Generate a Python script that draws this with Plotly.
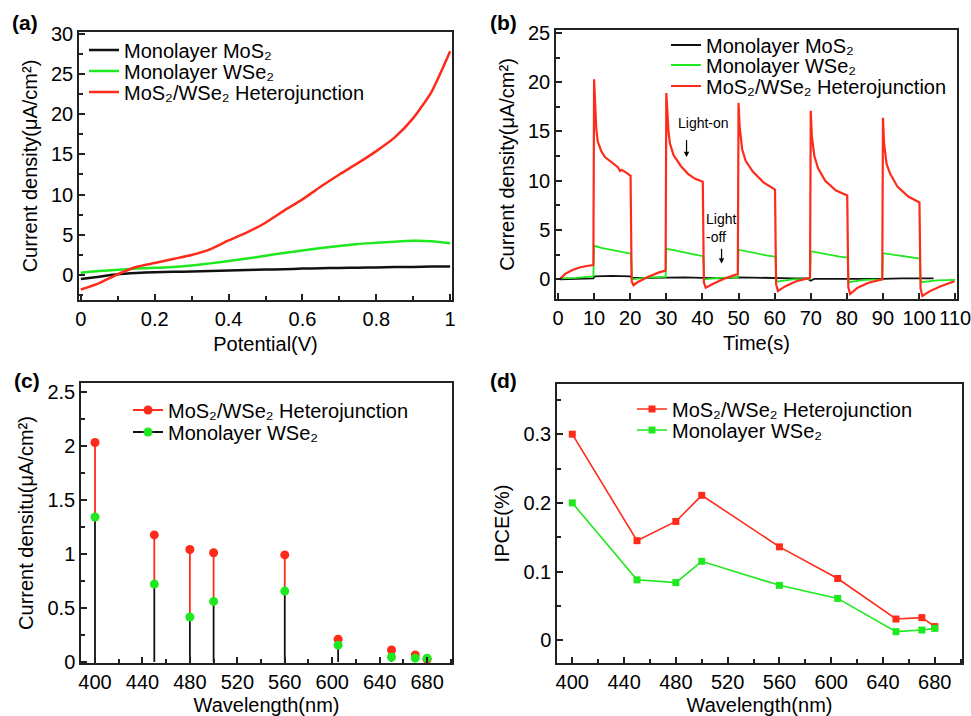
import plotly.graph_objects as go

# ---------------- data ----------------
# (a) photocurrent vs potential
potential = [0, 0.05, 0.1, 0.15, 0.2, 0.25, 0.3, 0.35, 0.4, 0.45, 0.5,
             0.55, 0.6, 0.65, 0.7, 0.75, 0.8, 0.85, 0.9, 0.95, 1.0]
a_mos2 = [-0.5, -0.2, 0.1, 0.25, 0.35, 0.4, 0.45, 0.5, 0.58, 0.62, 0.68,
          0.72, 0.8, 0.85, 0.88, 0.92, 0.95, 1.0, 1.0, 1.05, 1.05]
a_wse2 = [0.3, 0.5, 0.65, 0.8, 0.9, 1.0, 1.2, 1.45, 1.75, 2.05, 2.4,
          2.75, 3.05, 3.35, 3.6, 3.85, 4.0, 4.15, 4.25, 4.2, 3.95]
a_het = [-1.8, -1.0, 0.1, 1.0, 1.5, 2.0, 2.5, 3.2, 4.3, 5.3, 6.5,
         8.0, 9.4, 11.0, 12.5, 13.9, 15.4, 17.1, 19.5, 22.8, 27.8]

# (b) on/off response vs time
t_mos2 = [0.5, 5, 9.8, 10.2, 15, 20, 20.5, 25, 30, 35, 40, 45, 50, 55, 60,
          65, 69, 70, 71, 75, 80, 85, 90, 95, 100, 104]
b_mos2 = [0.0, 0.05, 0.1, 0.3, 0.35, 0.3, 0.15, 0.15, 0.2, 0.2, 0.15, 0.1,
          0.2, 0.15, 0.1, 0.1, 0.1, -0.15, 0.05, 0.05, 0.0, 0.0, 0.05, 0.1,
          0.1, 0.1]
t_wse2 = [0.5, 5, 9.8, 10.0, 12, 15, 18, 20.2, 20.5, 25, 29.8, 30.0, 32, 35,
          38, 40.2, 40.5, 45, 49.8, 50.0, 52, 55, 58, 60.2, 60.5, 65, 69.8,
          70.0, 72, 75, 78, 80.2, 80.5, 85, 89.8, 90.0, 92, 95, 98, 100.2,
          100.5, 105, 110]
b_wse2 = [0.1, 0.15, 0.3, 3.4, 3.2, 3.0, 2.75, 2.6, 0.0, 0.2, 0.25, 3.1,
          2.95, 2.7, 2.5, 2.35, 0.0, 0.15, 0.2, 3.0, 2.85, 2.6, 2.4, 2.3,
          -0.25, 0.0, 0.05, 2.85, 2.7, 2.5, 2.3, 2.2, -0.3, -0.05, 0.0, 2.65,
          2.55, 2.35, 2.2, 2.1, -0.3, -0.1, -0.05]
t_het = [0.5, 2, 4, 6, 8, 9.8, 10.0, 10.3, 10.6, 11, 12, 13, 15, 16.5, 17.2,
         17.6, 19, 20.1, 20.4, 20.9, 22, 25, 28, 29.8,
         30.0, 30.3, 30.6, 31, 32, 34, 36, 38, 40.1, 40.4, 40.9, 43, 46, 49.8,
         50.0, 50.3, 50.6, 51, 52, 54, 57, 60.1, 60.4, 60.9, 63, 66, 69.8,
         70.0, 70.3, 70.6, 71, 72, 74, 77, 80.1, 80.4, 80.9, 83, 86, 89.8,
         90.0, 90.3, 90.6, 91, 92, 94, 97, 100.1, 100.4, 100.9, 103, 106, 109.8]
b_het = [0.0, 0.55, 0.95, 1.2, 1.35, 1.45, 20.3, 17.5, 15.3, 14.0, 13.0, 12.4,
         11.8, 11.4, 11.0, 11.1, 10.8, 10.5, -0.2, -0.6, -0.3, 0.25, 0.7, 0.88,
         18.9, 16.5, 15.0, 13.8, 12.6, 11.5, 10.7, 10.2, 9.9, -0.3, -0.85,
         -0.45, 0.05, 0.55,
         17.9, 15.5, 14.3, 13.2, 12.0, 10.9, 9.8, 9.1, -0.5, -1.2, -0.7,
         -0.2, 0.15,
         17.1, 14.5, 13.3, 12.5, 11.3, 10.0, 9.0, 8.5, -0.8, -1.5, -0.85,
         -0.35, 0.0,
         16.4, 13.8, 12.6, 11.7, 10.7, 9.4, 8.4, 7.8, -0.9, -1.7, -1.2, -0.7,
         -0.2]

# (c) photocurrent vs wavelength, (d) IPCE
wavelength = [400, 450, 480, 500, 560, 605, 650, 670, 680]
c_het = [2.03, 1.175, 1.04, 1.01, 0.99, 0.21, 0.11, 0.065, 0.025]
c_wse2 = [1.34, 0.72, 0.415, 0.56, 0.655, 0.155, 0.045, 0.035, 0.035]
d_het = [0.300, 0.145, 0.173, 0.211, 0.136, 0.090, 0.031, 0.033, 0.020]
d_wse2 = [0.200, 0.088, 0.084, 0.115, 0.080, 0.061, 0.0126, 0.015, 0.0174]

name_mos2 = "Monolayer MoS₂"
name_wse2 = "Monolayer WSe₂"
name_het = "MoS₂/WSe₂ Heterojunction"

RED = "#ff2b1a"
GREEN = "#1ee81e"
BLACK = "#111111"
FONT = "Liberation Sans, Arial, Helvetica, sans-serif"

W, H = 971, 716
def px_x(p):
    return p / W
def px_y(p):
    return 1 - p / H

fig = go.Figure()
legends = {}
LEG_FONT = 20

def leg(key, x_text, y_row):
    legends[key] = dict(x=px_x(x_text - 41), y=px_y(y_row), xanchor="left",
                        yanchor="middle", bgcolor="rgba(0,0,0,0)",
                        font=dict(size=LEG_FONT, color="black", family=FONT))
    return key

# (a)
fig.add_trace(go.Scatter(x=potential, y=a_mos2, mode="lines", name=name_mos2,
                         line=dict(color=BLACK, width=2.5, shape="spline", smoothing=0.6),
                         xaxis="x", yaxis="y", legend=leg("legend", 125, 50)))
fig.add_trace(go.Scatter(x=potential, y=a_wse2, mode="lines", name=name_wse2,
                         line=dict(color=GREEN, width=2.5, shape="spline", smoothing=0.6),
                         xaxis="x", yaxis="y", legend=leg("legend2", 125, 71)))
fig.add_trace(go.Scatter(x=potential, y=a_het, mode="lines", name=name_het,
                         line=dict(color=RED, width=2.5, shape="spline", smoothing=0.6),
                         xaxis="x", yaxis="y", legend=leg("legend3", 125, 92)))

# (b)
fig.add_trace(go.Scatter(x=t_mos2, y=b_mos2, mode="lines", name=name_mos2,
                         line=dict(color=BLACK, width=1.8),
                         xaxis="x2", yaxis="y2", legend=leg("legend4", 707, 45)))
fig.add_trace(go.Scatter(x=t_wse2, y=b_wse2, mode="lines", name=name_wse2,
                         line=dict(color=GREEN, width=1.8),
                         xaxis="x2", yaxis="y2", legend=leg("legend5", 707, 65)))
fig.add_trace(go.Scatter(x=t_het, y=b_het, mode="lines", name=name_het,
                         line=dict(color=RED, width=2.2),
                         xaxis="x2", yaxis="y2", legend=leg("legend6", 707, 86)))

# (c) stems
stem_bx, stem_by, stem_rx, stem_ry = [], [], [], []
for w, g, r in zip(wavelength, c_wse2, c_het):
    stem_bx += [w, w, None]
    stem_by += [0, g, None]
    stem_rx += [w, w, None]
    stem_ry += [g, r, None]
fig.add_trace(go.Scatter(x=stem_bx, y=stem_by, mode="lines", showlegend=False,
                         line=dict(color=BLACK, width=1.8), xaxis="x3", yaxis="y3"))
fig.add_trace(go.Scatter(x=stem_rx, y=stem_ry, mode="lines", showlegend=False,
                         line=dict(color=RED, width=1.8), xaxis="x3", yaxis="y3"))
fig.add_trace(go.Scatter(x=wavelength, y=c_het, mode="markers", showlegend=False,
                         marker=dict(color=RED, size=9), xaxis="x3", yaxis="y3"))
fig.add_trace(go.Scatter(x=wavelength, y=c_wse2, mode="markers", showlegend=False,
                         marker=dict(color=GREEN, size=9), xaxis="x3", yaxis="y3"))
# legend entries for (c)
fig.add_trace(go.Scatter(x=[None], y=[None], mode="lines+markers", name=name_het,
                         line=dict(color=RED, width=1.8), marker=dict(color=RED, size=9),
                         xaxis="x3", yaxis="y3", legend=leg("legend7", 169, 410)))
fig.add_trace(go.Scatter(x=[None], y=[None], mode="lines+markers", name=name_wse2,
                         line=dict(color=BLACK, width=1.8), marker=dict(color=GREEN, size=9),
                         xaxis="x3", yaxis="y3", legend=leg("legend8", 169, 432)))

# (d)
fig.add_trace(go.Scatter(x=wavelength, y=d_het, mode="lines+markers", name=name_het,
                         line=dict(color=RED, width=1.6),
                         marker=dict(color=RED, size=7, symbol="square"),
                         xaxis="x4", yaxis="y4", legend=leg("legend9", 673, 409)))
fig.add_trace(go.Scatter(x=wavelength, y=d_wse2, mode="lines+markers", name=name_wse2,
                         line=dict(color=GREEN, width=1.6),
                         marker=dict(color=GREEN, size=7, symbol="square"),
                         xaxis="x4", yaxis="y4", legend=leg("legend10", 673, 430)))


def axis(domain, rng, dtick, minor_dtick, title, anchor, tick0=None, standoff=8):
    d = dict(domain=domain, range=rng, anchor=anchor, dtick=dtick,
             automargin=False, ticklabeloverflow="allow",
             showline=True, linecolor="#222222", linewidth=1.5, mirror=True,
             ticks="inside", ticklen=6, tickwidth=1.5, tickcolor="#222222",
             showgrid=False, zeroline=False,
             tickfont=dict(size=20, color="black", family=FONT),
             title=dict(text=title, font=dict(size=20, color="black", family=FONT),
                        standoff=standoff),
             minor=dict(ticks="inside", ticklen=4, tickwidth=1.5,
                        tickcolor="#222222", dtick=minor_dtick, showgrid=False))
    if tick0 is not None:
        d["tick0"] = tick0
        d["minor"]["tick0"] = tick0
    return d


ytitle = "Current density(μA/cm²)"

layout = dict(
    template="none",
    width=W, height=H,
    margin=dict(l=0, r=0, t=0, b=0, autoexpand=False),
    paper_bgcolor="white", plot_bgcolor="white",
    font=dict(family=FONT, color="black", size=18),
    xaxis=axis([px_x(79), px_x(452)], [-0.005, 1.005], 0.2, 0.1, "Potential(V)", "y"),
    yaxis=axis([px_y(300), px_y(32)], [-3.1, 30.2], 5, 2.5, ytitle, "x"),
    xaxis2=axis([px_x(556), px_x(957)], [-0.55, 110.5], 10, 10, "Time(s)", "y2"),
    yaxis2=axis([px_y(299), px_y(30)], [-2.0, 25.3], 5, 2.5, ytitle, "x2"),
    xaxis3=axis([px_x(81), px_x(452)], [388.2, 701], 40, 20, "Wavelength(nm)", "y3", tick0=400),
    yaxis3=axis([px_y(663), px_y(383)], [-0.01, 2.58], 0.5, 0.25,
                "Current densitu(μA/cm²)", "x3"),
    xaxis4=axis([px_x(557), px_x(962)], [388.2, 701], 40, 20, "Wavelength(nm)", "y4", tick0=400),
    yaxis4=axis([px_y(663), px_y(384)], [-0.033, 0.373], 0.1, 0.05, "IPCE(%)", "x4"),
    showlegend=True,
)
layout.update(legends)
fig.update_layout(**layout)

# panel labels
for lbl, xp, yp in [("(a)", 10, 22), ("(b)", 488, 22), ("(c)", 12, 381), ("(d)", 488, 381)]:
    fig.add_annotation(text="<b>%s</b>" % lbl, x=px_x(xp), y=px_y(yp), xref="paper", yref="paper",
                       xanchor="left", yanchor="middle", showarrow=False,
                       font=dict(size=21, color="black", family=FONT))

# light on / off annotations in (b)
fig.add_annotation(text="Light-on", x=40.2, y=15.85, xref="x2", yref="y2",
                   showarrow=False, font=dict(size=14, color="black", family=FONT))
fig.add_annotation(text="", x=35.6, y=12.4, ax=35.6, ay=14.3, xref="x2", yref="y2",
                   axref="x2", ayref="y2", showarrow=True, arrowhead=2, arrowsize=0.9,
                   arrowwidth=1.2, arrowcolor="black")
fig.add_annotation(text="Light<br>-off", x=40.4, y=5.25, xref="x2", yref="y2",
                   xanchor="left", align="left", showarrow=False,
                   font=dict(size=14, color="black", family=FONT))
fig.add_annotation(text="", x=45.3, y=1.6, ax=45.3, ay=3.25, xref="x2", yref="y2",
                   axref="x2", ayref="y2", showarrow=True, arrowhead=2, arrowsize=0.9,
                   arrowwidth=1.2, arrowcolor="black")

fig.write_html("out.html", config={"displayModeBar": False},
               post_script="document.body.style.margin='0';document.body.style.overflow='hidden';")
